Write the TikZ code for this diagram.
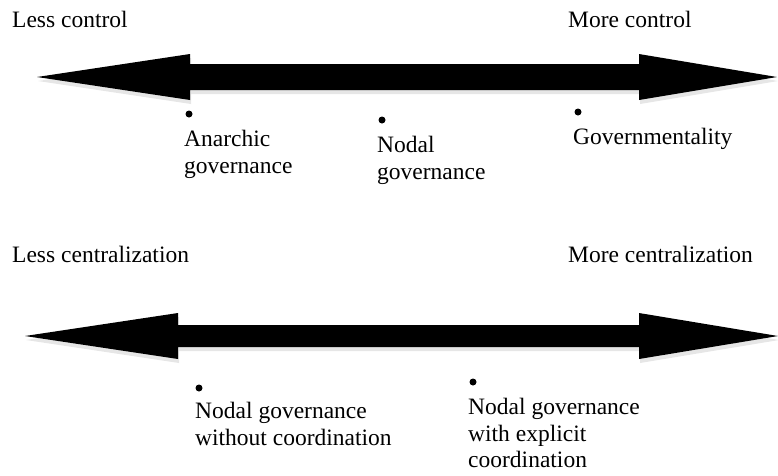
\documentclass[tikz,border=0pt]{standalone}
\usepackage{fontspec}
\setmainfont{Liberation Serif}
\usetikzlibrary{shadows}

\begin{document}
\begin{tikzpicture}[
    x=1pt, y=-1pt,
    every node/.style={
        anchor=north west, inner sep=0pt,
        align=left, font=\fontsize{23.5}{26.5}\selectfont
    },
    bigarrow/.style={
        fill=black,
        drop shadow={opacity=0.2, shadow xshift=1pt, shadow yshift=-4pt}
    },
    spot/.style={
        circle, fill=black, minimum size=7pt,
        inner sep=0pt, anchor=center
    }
]
\useasboundingbox (0,0) rectangle (778,475);

% control axis
\node (lessctrl) at (12,  9) {\strut Less control};
\node (morectrl) at (568, 9) {\strut More control};
\coordinate (ctrlL) at (37, 77);
\coordinate (ctrlR) at (777,77);
\fill[bigarrow] (ctrlL) -- (190,54) -- (190,64) -- (639,64) -- (639,54)
    -- (ctrlR) -- (639,100) -- (639,90) -- (190,90) -- (190,100) -- cycle;
\node[spot] (anarchicdot) at (189,114) {};
\node[spot] (nodaldot)    at (382,120) {};
\node[spot] (govdot)      at (578,112) {};
\node (anarchic) at (184,128) {\strut Anarchic\\governance};
\node (nodal)    at (377,134) {\strut Nodal\\governance};
\node (gov)      at (573,126) {\strut Governmentality};

% centralization axis
\node (lesscent) at (12, 244) {\strut Less centralization};
\node (morecent) at (568,244) {\strut More centralization};
\coordinate (centL) at (25, 336);
\coordinate (centR) at (778,336);
\fill[bigarrow] (centL) -- (178,313) -- (178,325) -- (639,325) -- (639,313)
    -- (centR) -- (639,359) -- (639,347) -- (178,347) -- (178,359) -- cycle;
\node[spot] (nocoorddot) at (199,388) {};
\node[spot] (coorddot)   at (473,382) {};
\node (nocoord) at (195,400) {\strut Nodal governance\\without coordination};
\node (coord)   at (468,396) {\strut Nodal governance\\with explicit\\coordination};
\end{tikzpicture}
\end{document}
